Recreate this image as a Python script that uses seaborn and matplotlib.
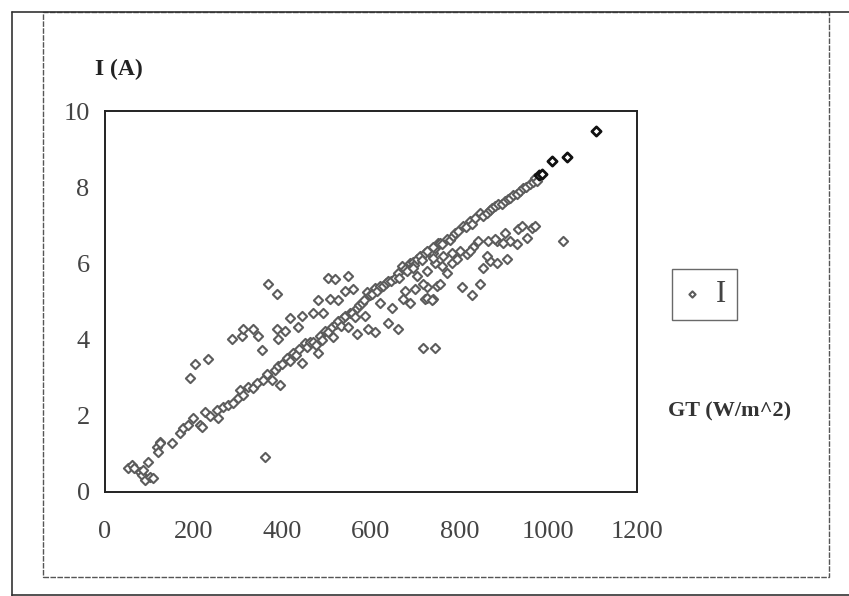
import numpy as np
import pandas as pd
import matplotlib.pyplot as plt
import seaborn as sns
from matplotlib.patches import Rectangle
from matplotlib.lines import Line2D

# GT (W/m^2) and I (A)
gt_low = [52, 61, 66, 78, 83, 86, 90, 97, 101, 108, 117, 120, 124, 124, 151, 169, 176, 187, 199,
          214, 219, 226, 237, 252, 255, 266, 277, 289, 300, 305, 311, 323, 334, 343, 357, 365,
          377, 383, 390]
i_low = [0.63, 0.71, 0.62, 0.52, 0.45, 0.58, 0.31, 0.79, 0.39, 0.37, 1.18, 1.05, 1.31, 1.28, 1.28,
         1.54, 1.67, 1.75, 1.94, 1.75, 1.70, 2.10, 2.00, 2.15, 1.94, 2.23, 2.28, 2.33, 2.46, 2.67,
         2.54, 2.75, 2.72, 2.85, 2.93, 3.10, 2.93, 3.20, 3.30]

gt_upper = [192, 203, 232, 286, 309, 311, 334, 345, 354, 368, 388, 388, 390, 406, 417, 435, 444,
            469, 492, 481, 508, 526, 541, 559, 503, 519, 548]
i_upper = [3.00, 3.37, 3.48, 4.03, 4.10, 4.29, 4.27, 4.10, 3.72, 5.47, 5.21, 4.29, 4.03, 4.24,
           4.58, 4.33, 4.63, 4.71, 4.71, 5.03, 5.08, 5.03, 5.29, 5.34, 5.63, 5.60, 5.68]

gt_mid = [395, 400, 410, 418, 424, 430, 438, 444, 451, 456, 462, 470, 475, 480, 485, 490, 496,
          503, 512, 514, 520, 526, 532, 537, 542, 548, 553, 558, 563, 568, 574, 580, 585, 591,
          598, 603, 608, 614, 620, 627, 633, 638, 645, 654, 660, 664, 670, 676, 682, 688, 694,
          698, 704, 710, 715, 722, 730, 735, 740, 745, 751]
i_mid = [2.80, 3.35, 3.53, 3.45, 3.66, 3.60, 3.75, 3.40, 3.90, 3.80, 3.93, 3.95, 3.85, 3.66, 4.10,
         4.00, 4.24, 4.20, 4.33, 4.06, 4.40, 4.50, 4.35, 4.58, 4.62, 4.33, 4.71, 4.70, 4.60, 4.82,
         4.90, 4.95, 5.05, 5.24, 5.16, 5.20, 5.35, 5.29, 5.40, 5.42, 5.48, 5.55, 5.55, 5.63, 5.75,
         5.62, 5.94, 5.86, 5.80, 6.02, 6.05, 5.95, 6.13, 6.20, 6.10, 6.28, 6.30, 6.25, 6.28, 6.40,
         6.54]

gt_scatter = [568, 587, 594, 609, 621, 638, 648, 661, 673, 677, 688, 700, 717, 744, 722, 740,
              726, 749, 704, 726, 695, 744, 361]
i_scatter = [4.16, 4.63, 4.29, 4.19, 4.97, 4.45, 4.84, 4.29, 5.08, 5.29, 4.95, 5.34, 3.77, 3.77,
             5.08, 5.08, 5.37, 5.42, 5.68, 5.81, 5.89, 6.02, 0.92]

gt_high = [726, 740, 756, 760, 771, 778, 785, 790, 796, 808, 815, 823, 828, 835, 846, 853, 862,
           868, 873, 880, 887, 895, 903, 908, 914, 920, 929, 935, 943, 950, 959, 965, 970, 975]
i_high = [6.34, 6.42, 6.54, 6.50, 6.65, 6.62, 6.73, 6.80, 6.86, 6.99, 6.95, 7.12, 7.05, 7.20, 7.33,
          7.25, 7.33, 7.40, 7.46, 7.50, 7.57, 7.55, 7.64, 7.70, 7.72, 7.80, 7.83, 7.90, 7.98, 8.00,
          8.09, 8.15, 8.25, 8.17]

gt_branch = [717, 726, 738, 756, 763, 771, 783, 794, 805, 817, 828, 830, 846, 841, 853, 864, 869,
             884, 884, 902, 907, 914, 929, 932, 941, 952, 963, 970, 1033, 740, 760, 783, 801, 823,
             862, 880, 898]
i_branch = [5.47, 5.10, 5.03, 5.47, 6.20, 5.76, 6.00, 6.13, 5.37, 6.26, 5.16, 6.42, 5.47, 6.60,
            5.89, 6.60, 6.07, 6.60, 6.02, 6.81, 6.13, 6.60, 6.52, 6.91, 6.99, 6.68, 6.94, 6.99,
            6.60, 6.15, 5.94, 6.28, 6.34, 6.34, 6.20, 6.65, 6.55]

gt_dark = [978, 985, 1008, 1042, 1108]
i_dark = [8.32, 8.36, 8.69, 8.80, 9.48]

x_ticks = [0, 200, 400, 600, 800, 1000, 1200]
y_ticks = [0, 2, 4, 6, 8, 10]

df = pd.DataFrame({
    "GT": gt_low + gt_upper + gt_mid + gt_scatter + gt_high + gt_branch,
    "I": i_low + i_upper + i_mid + i_scatter + i_high + i_branch,
})
df_dark = pd.DataFrame({"GT": gt_dark, "I": i_dark})

sns.set_style("white")
plt.rcParams['font.family'] = ['Liberation Serif', 'DejaVu Serif']

fig = plt.figure(figsize=(8.49, 5.96), dpi=100)
ax = fig.add_axes([0.1237, 0.1745, 0.6266, 0.639])

grey = "#5c5c5c"
sns.scatterplot(data=df, x="GT", y="I", ax=ax, marker="D", s=22, facecolor="white",
                edgecolor=grey, linewidth=1.5, label="I", zorder=3)
sns.scatterplot(data=df_dark, x="GT", y="I", ax=ax, marker="D", s=22, facecolor="white",
                edgecolor="#111111", linewidth=2.0, zorder=4, legend=False)

ax.set_xlim(0, 1200)
ax.set_ylim(0, 10)
ax.set_xticks(x_ticks)
ax.set_yticks(y_ticks)
ax.set_xlabel("")
ax.set_ylabel("")
for sp in ax.spines.values():
    sp.set_color("#222222")
    sp.set_linewidth(1.4)
    sp.set_visible(True)
ax.tick_params(axis="x", direction="out", length=7, width=1, color="#333333",
               labelsize=19, labelcolor="#444444", pad=14)
ax.tick_params(axis="y", direction="out", length=4, width=1, color="#333333",
               labelsize=19, labelcolor="#444444", pad=7)

leg = ax.legend(loc="center", bbox_to_anchor=(0.830, 0.506), bbox_transform=fig.transFigure,
                fancybox=False, frameon=True, fontsize=22, handlelength=0.6,
                handletextpad=0.5, borderpad=0.35, borderaxespad=0)
leg.get_frame().set_edgecolor("#444444")
leg.get_frame().set_linewidth(1.0)
for t in leg.get_texts():
    t.set_color("#444444")
for h in leg.legend_handles:
    h.set_sizes([10])

fig.text(0.112, 0.883, "I (A)", fontsize=17, fontweight="bold", color="#222222",
         ha="left", va="center")
fig.text(0.787, 0.309, "GT (W/m^2)", fontsize=16, fontweight="bold", color="#333333",
         ha="left", va="center")

# chart area border and scan frame
fig.patches.append(Rectangle((43 / 849, 1 - 577 / 596), 786 / 849, 565 / 596,
                             transform=fig.transFigure, fill=False, edgecolor="#555555",
                             linewidth=1.0, linestyle=(0, (4, 1))))
fig.lines.append(Line2D([12 / 849, 12 / 849], [0, 1 - 12 / 596], transform=fig.transFigure,
                        color="#333333", linewidth=1.2))
fig.lines.append(Line2D([12 / 849, 1], [1 - 12 / 596, 1 - 12 / 596], transform=fig.transFigure,
                        color="#333333", linewidth=1.2))
fig.lines.append(Line2D([12 / 849, 1], [1 / 596, 1 / 596], transform=fig.transFigure,
                        color="#333333", linewidth=1.2))

fig.savefig("out.png", dpi=100)
